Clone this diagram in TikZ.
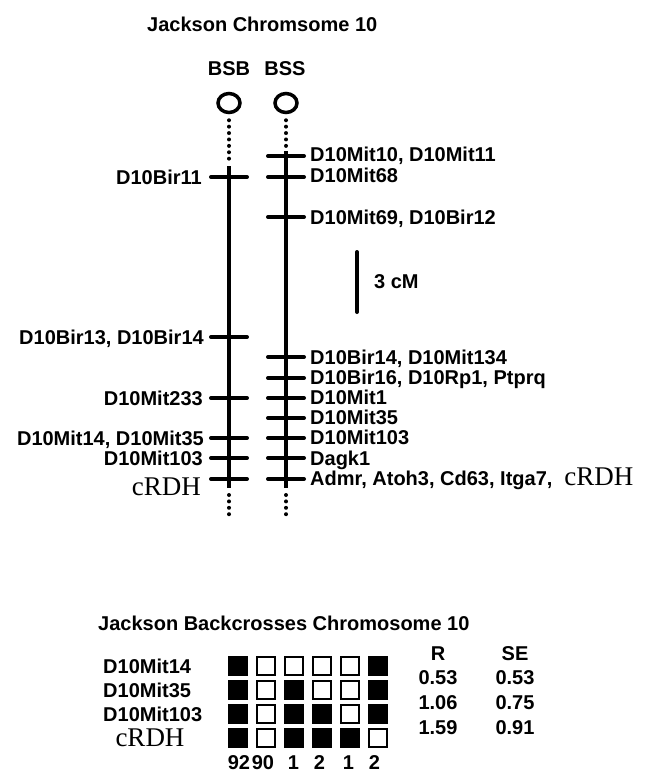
\documentclass[tikz,border=0pt]{standalone}
\usepackage{fontspec}
\setmainfont{Liberation Sans}
\newfontfamily\rdhfont{Liberation Serif}
\newcommand{\rdh}{\rdhfont\mdseries\fontsize{27}{27}\selectfont}
\usetikzlibrary{positioning,calc,shapes.geometric}

\begin{document}
\begin{tikzpicture}[
  x=1pt, y=-1pt,
  font=\fontsize{20}{20}\selectfont\bfseries,
  chrom/.style={line width=4pt},
  dots/.style={line width=4pt, line cap=round, dash pattern=on 0pt off 6.4pt},
  tick/.style={line width=4pt, line cap=round},
  cen/.style={draw, line width=3.5pt, ellipse, minimum width=22pt, minimum height=19pt, inner sep=0pt},
  lbl/.style={inner sep=0pt, anchor=base east, yshift=-7pt},
  rbl/.style={inner sep=0pt, anchor=base west, yshift=-7pt},
  txt/.style={inner sep=0pt, anchor=base, yshift=-7pt},
  cell/.style={draw, line width=2pt, minimum width=18pt, minimum height=18pt, inner sep=0pt}
]
\useasboundingbox (0,0) rectangle (652,772);

% map
\node[rbl] (title) at (147,24) {Jackson Chromsome 10};
\node[txt] (bsb) at (229,68) {BSB};
\node[txt] (bss) at (285,68) {BSS};
\node[cen] (cenL) at (229,103) {};
\node[cen] (cenR) at (286,103) {};

\coordinate (topL) at (229,166);
\coordinate (topR) at (286,151);
\coordinate (botL) at (229,488);
\coordinate (botR) at (286,488);
\draw[dots] (cenL.south) ++(0,6) -- (229,161);
\draw[dots] (cenR.south) ++(0,6) -- (286,148);
\draw[chrom] (topL) -- (botL);
\draw[chrom] (topR) -- (botR);
\draw[dots] (botL) ++(0,7) -- ++(0,22);
\draw[dots] (botR) ++(0,7) -- ++(0,22);

\foreach \y in {177,337,398,438,458,479}
  \draw[tick] (211,\y) -- (247,\y);
\foreach \y in {156,177,217,357,378,398,418,438,458,479}
  \draw[tick] (268,\y) -- (304,\y);

\node[lbl] (bir11) at (202,177) {D10Bir11};
\node[lbl] (bir13) at (204,337) {D10Bir13, D10Bir14};
\node[lbl] (mit233) at (203,398) {D10Mit233};
\node[lbl] (mit14) at (204,438) {D10Mit14, D10Mit35};
\node[lbl] (mit103) at (203,458) {D10Mit103};
\node[inner sep=0pt, anchor=base east, font=\rdh] (rdhL) at (201,495) {cRDH};

\node[rbl] (mit10) at (310,154) {D10Mit10, D10Mit11};
\node[rbl] (mit68) at (310,175) {D10Mit68};
\node[rbl] (mit69) at (310,217) {D10Mit69, D10Bir12};
\node[rbl] (bir14) at (310,357) {D10Bir14, D10Mit134};
\node[rbl] (bir16) at (310,377) {D10Bir16, D10Rp1, Ptprq};
\node[rbl] (mit1) at (310,397) {D10Mit1};
\node[rbl] (mit35) at (310,417) {D10Mit35};
\node[rbl] (mit103r) at (310,437) {D10Mit103};
\node[rbl] (dagk) at (310,458) {Dagk1};
\node[rbl] (admr) at (310,478) {Admr, Atoh3, Cd63, Itga7,\hspace{12pt}{\rdh cRDH}};

% scale bar
\coordinate (sbTop) at (357,252);
\coordinate (sbBot) at (357,312);
\draw[tick] (sbTop) -- (sbBot);
\node[inner sep=0pt, right=17pt of $(sbTop)!0.5!(sbBot)$] (cm) {3 cM};

% backcross panel
\node[rbl] (title2) at (98,623) {Jackson Backcrosses Chromosome 10};
\foreach \nm [count=\r] in {D10Mit14,D10Mit35,D10Mit103}
  \node[rbl] (row\r) at (103,642+24*\r) {\nm};
\node[inner sep=0pt, anchor=base, font=\rdh] (row4) at (150,746) {cRDH};

\foreach \pat [count=\r] in {{1,0,0,0,0,1},{1,0,1,0,0,1},{1,0,1,1,0,1},{1,0,1,1,1,0}}
  \foreach \f [count=\c] in \pat {
    \ifnum\f=1 \def\fc{black}\else\def\fc{white}\fi
    \node[cell, fill=\fc] (g\r\c) at (209.5+28*\c,642+24*\r) {};
  }
\foreach \n/\dx [count=\c] in {92/1.5,90/-2.5,1/0,2/-2,1/-1,2/-3}
  \node[txt] (n\c) at (209.5+28*\c+\dx,762) {\n};

\node[txt] (rhead) at (438,653) {R};
\node[txt] (sehead) at (515,653) {SE};
\foreach \rv/\sv [count=\i] in {0.53/0.53,1.06/0.75,1.59/0.91} {
  \node[txt] (r\i) at (438,652+25*\i) {\rv};
  \node[txt] (se\i) at (515,652+25*\i) {\sv};
}
\end{tikzpicture}
\end{document}
